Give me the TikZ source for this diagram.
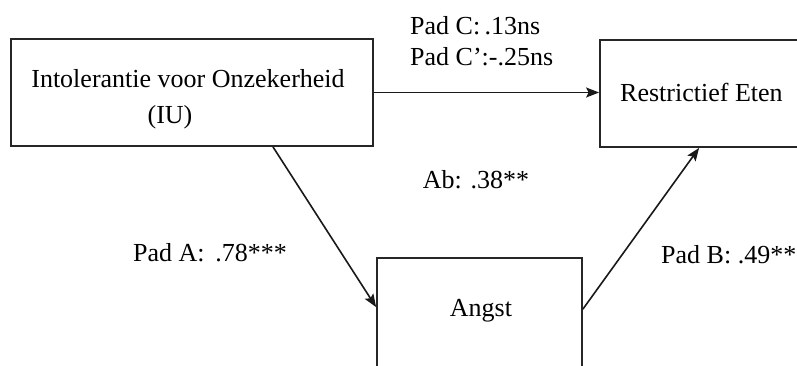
\documentclass[tikz,border=0pt]{standalone}
\usepackage{fontspec}
\setmainfont{Liberation Serif}
\usetikzlibrary{arrows.meta}
\tikzset{
  box/.style={draw=black!85, line width=1.8pt, inner sep=0pt, fill=white},
  lbl/.style={inner sep=0pt, font=\fontsize{26}{31}\selectfont, text=black},
  conn/.style={draw=black!90, line width=1.6pt, -{Stealth[length=13pt,width=10pt,inset=2.5pt]}}
}
\begin{document}
\begin{tikzpicture}[x=1pt,y=-1pt]
\useasboundingbox (0,0) rectangle (797,365);
\fill[white] (0,0) rectangle (797,365);
% boxes
\node[box, minimum width=362pt, minimum height=107pt] (iu) at (192,92.5) {};
\node[box, minimum width=210pt, minimum height=107pt] (re) at (705,93.5) {};
\node[box, minimum width=205pt, minimum height=150pt] (an) at (479.5,333) {};
% box texts
\node[lbl] (iut1) at (188,79) {Intolerantie voor Onzekerheid};
\node[lbl] (iut2) at (170,117) {(IU)};
\node[lbl, anchor=west] (ret) at (620,92) {Restrictief Eten};
\node[lbl] (ant) at (481,311) {Angst};
% connectors
\draw[conn] (iu.east) -- (iu.east -| re.west);
\draw[conn] ([xshift=81pt]iu.south) -- ([yshift=-50pt]an.north west);
\draw[conn] ([yshift=-52pt]an.north east) -- ([xshift=100pt]re.south west);
% labels
\node[lbl, anchor=west] (pc1) at (410,26) {Pad C:\,.13ns};
\node[lbl, anchor=west] (pc2) at (410,57) {Pad C’:-.25ns};
\node[lbl] (ab) at (476,180) {Ab: .38**};
\node[lbl] (pa) at (210,253) {Pad A: \,.78***};
\node[lbl, anchor=west] (pb) at (661,255) {Pad B: .49**};
\end{tikzpicture}
\end{document}
